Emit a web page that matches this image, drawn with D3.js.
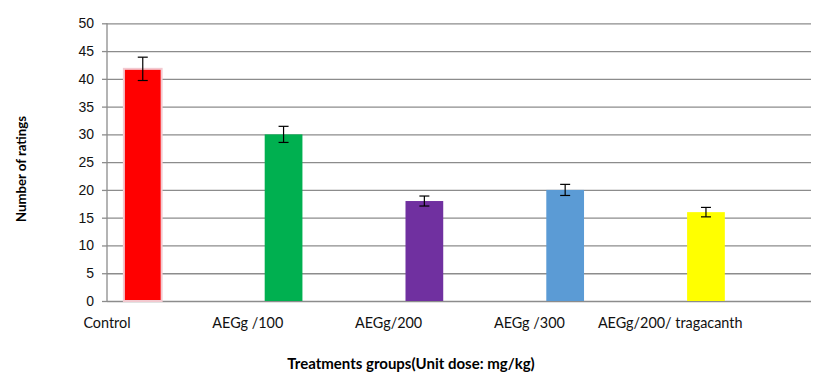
<!DOCTYPE html>
<html>
<head>
<meta charset="utf-8">
<script src="https://cdn.jsdelivr.net/npm/d3@7"></script>
<style>
  body { margin: 0; background: #fff; }
  svg { font-family: Lato, "Liberation Sans", sans-serif; }
</style>
</head>
<body>
<script>
const categories = ["Control", "AEGg /100", "AEGg/200", "AEGg /300", "AEGg/200/ tragacanth"];
const values = [41.8, 30.0, 18.0, 20.0, 16.0];
const errors = [2.1, 1.45, 0.9, 1.0, 0.85];
const colors = ["#ff0000", "#00b050", "#7030a0", "#5b9bd5", "#ffff00"];
const y_ticks = [0, 5, 10, 15, 20, 25, 30, 35, 40, 45, 50];

const W = 831, H = 387;
const plot = {left: 107, right: 811, top: 23.3, bottom: 301};

const svg = d3.select("body").append("svg")
    .attr("width", W)
    .attr("height", H);

const x = d3.scaleBand().domain(categories).range([plot.left, plot.right]);
const y = d3.scaleLinear().domain([0, 50]).range([plot.bottom, plot.top]);
const bw = x.bandwidth();

// gridlines + left axis
const yAxis = svg.append("g")
    .attr("transform", "translate(" + plot.left + ",0)")
    .call(d3.axisLeft(y).tickValues(y_ticks).tickSize(-(plot.right - plot.left)).tickPadding(13));
yAxis.select(".domain").remove();
yAxis.selectAll(".tick line").attr("stroke", "#8c8c8c").attr("stroke-width", 1.3);
yAxis.selectAll(".tick text")
    .attr("font-size", 14)
    .attr("fill", "#111");
// small outward ticks
yAxis.selectAll(".tick").append("line")
    .attr("x1", -5).attr("x2", 0)
    .attr("stroke", "#8c8c8c").attr("stroke-width", 1.3);

svg.append("line")
    .attr("x1", plot.left).attr("x2", plot.left)
    .attr("y1", y(50)).attr("y2", y(0))
    .attr("stroke", "#8c8c8c").attr("stroke-width", 1.3);

// bars
const barX = function(d, i) { return x(categories[i]) + bw * 0.12; };
const barW = bw * 0.268;

svg.selectAll("rect.bar")
    .data(values)
  .enter().append("rect")
    .attr("class", "bar")
    .attr("x", barX)
    .attr("width", barW)
    .attr("y", function(d) { return y(d); })
    .attr("height", function(d) { return y(0) - y(d); })
    .attr("fill", function(d, i) { return colors[i]; })
    .attr("stroke", function(d, i) { return i === 0 ? "#f3c9d0" : "none"; })
    .attr("stroke-width", 2);

// error bars
const eb = svg.selectAll("g.err")
    .data(values)
  .enter().append("g")
    .attr("class", "err")
    .attr("stroke", "#000")
    .attr("stroke-width", 1.2);
eb.append("line")
    .attr("x1", function(d, i) { return barX(d, i) + barW / 2; })
    .attr("x2", function(d, i) { return barX(d, i) + barW / 2; })
    .attr("y1", function(d, i) { return y(d + errors[i]); })
    .attr("y2", function(d, i) { return y(d - errors[i]); });
eb.append("line")
    .attr("x1", function(d, i) { return barX(d, i) + barW / 2 - 5; })
    .attr("x2", function(d, i) { return barX(d, i) + barW / 2 + 5; })
    .attr("y1", function(d, i) { return y(d + errors[i]); })
    .attr("y2", function(d, i) { return y(d + errors[i]); });
eb.append("line")
    .attr("x1", function(d, i) { return barX(d, i) + barW / 2 - 5; })
    .attr("x2", function(d, i) { return barX(d, i) + barW / 2 + 5; })
    .attr("y1", function(d, i) { return y(d - errors[i]); })
    .attr("y2", function(d, i) { return y(d - errors[i]); });

// category labels (sit on the band boundaries)
svg.selectAll("text.cat")
    .data(categories)
  .enter().append("text")
    .attr("class", "cat")
    .attr("x", function(d) { return x(d); })
    .attr("y", 328)
    .attr("text-anchor", "middle")
    .attr("font-size", 14.4)
    .attr("fill", "#111")
    .text(function(d) { return d; });

// axis titles
svg.append("text")
    .attr("x", 411)
    .attr("y", 369)
    .attr("text-anchor", "middle")
    .attr("font-size", 15)
    .attr("font-weight", "bold")
    .attr("fill", "#000")
    .text("Treatments groups(Unit dose: mg/kg)");

svg.append("text")
    .attr("transform", "translate(26,169) rotate(-90)")
    .attr("text-anchor", "middle")
    .attr("font-size", 13.2)
    .attr("font-weight", "bold")
    .attr("fill", "#000")
    .text("Number of ratings");
</script>
</body>
</html>
